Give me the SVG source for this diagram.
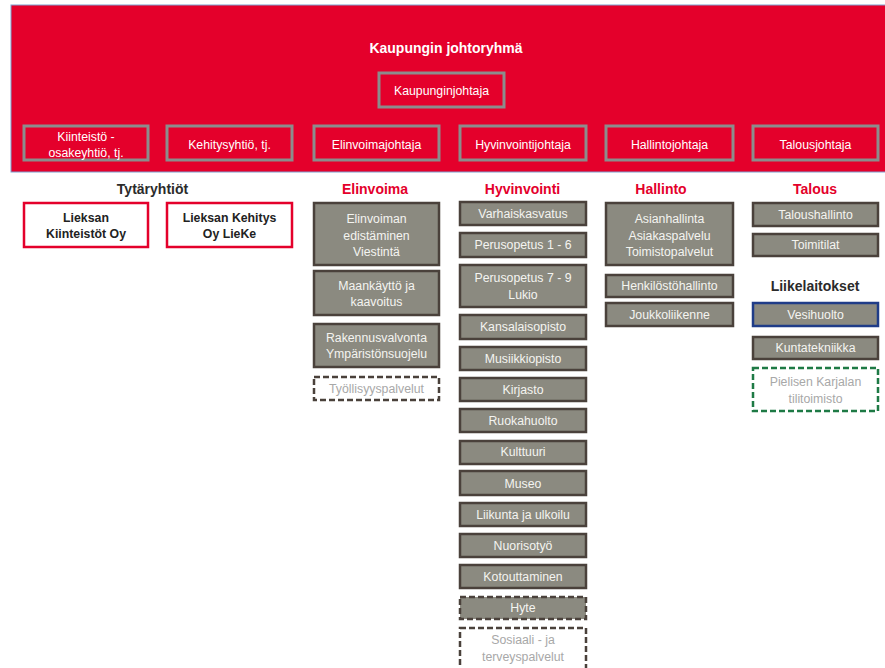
<svg xmlns="http://www.w3.org/2000/svg" width="885" height="668" viewBox="0 0 885 668">
<style>
text{font-family:"Liberation Sans",Arial,sans-serif;text-anchor:middle}
.top{fill:none;stroke:#8c8c8c;stroke-width:3}
.tw{fill:#ffffff;font-size:12.3px}
.hd{font-size:14px;font-weight:bold;fill:#e4002b}
.hk{font-size:14px;font-weight:bold;fill:#2b2b2b}
.sub{fill:#ffffff;stroke:#e4002b;stroke-width:2.5}
.sb{font-size:12.3px;font-weight:bold;fill:#222222}
.g{fill:#8b8a80;stroke:#4a413b;stroke-width:2.5}
.gt{font-size:12.3px;fill:#f4f4f0}
.dash{fill:#ffffff;stroke:#4a413b;stroke-width:2.5;stroke-dasharray:6 3}
.dt{font-size:12.3px;fill:#a8a8a8}
</style>
<g id="banner">
<rect x="11" y="5" width="880" height="167" fill="#e4002b" stroke="#7f9fcf" stroke-width="1"/>
<text x="446" y="53" style="font-size:14px;font-weight:bold;fill:#ffffff">Kaupungin johtoryhmä</text>
</g>
<g id="kaupunginjohtaja"><rect class="top" x="379" y="73" width="125" height="34"/><text class="tw" x="441.5" y="95">Kaupunginjohtaja</text></g>
<g id="kiinteistojohtaja"><rect class="top" x="24" y="126" width="124" height="34"/><text class="tw" x="86" y="141">Kiinteistö -</text><text class="tw" x="86" y="157">osakeyhtiö, tj.</text></g>
<g id="kehitysyhtio"><rect class="top" x="167" y="126" width="125" height="34"/><text class="tw" x="229.5" y="149">Kehitysyhtiö, tj.</text></g>
<g id="elinvoimajohtaja"><rect class="top" x="314" y="126" width="125" height="34"/><text class="tw" x="376.5" y="149">Elinvoimajohtaja</text></g>
<g id="hyvinvointijohtaja"><rect class="top" x="460" y="126" width="126" height="34"/><text class="tw" x="523" y="149">Hyvinvointijohtaja</text></g>
<g id="hallintojohtaja"><rect class="top" x="606" y="126" width="127" height="34"/><text class="tw" x="669.5" y="149">Hallintojohtaja</text></g>
<g id="talousjohtaja"><rect class="top" x="753" y="126" width="125" height="34"/><text class="tw" x="815.5" y="149">Talousjohtaja</text></g>

<g id="headers">
<text class="hk" x="152.5" y="194">Tytäryhtiöt</text>
<text class="hd" x="375" y="194">Elinvoima</text>
<text class="hd" x="522.5" y="194">Hyvinvointi</text>
<text class="hd" x="661" y="194">Hallinto</text>
<text class="hd" x="815" y="194">Talous</text>
<text class="hk" x="815" y="291">Liikelaitokset</text>
</g>

<g id="lieksan-kiinteistot"><rect class="sub" x="24" y="203" width="124" height="44"/><text class="sb" x="86" y="222">Lieksan</text><text class="sb" x="86" y="238">Kiinteistöt Oy</text></g>
<g id="lieksan-kehitys"><rect class="sub" x="167" y="203" width="125" height="44"/><text class="sb" x="229.5" y="222">Lieksan Kehitys</text><text class="sb" x="229.5" y="238">Oy LieKe</text></g>

<g id="elinvoiman-edistaminen"><rect class="g" x="314" y="203" width="125" height="62"/><text class="gt" x="376.5" y="223">Elinvoiman</text><text class="gt" x="376.5" y="240">edistäminen</text><text class="gt" x="376.5" y="256">Viestintä</text></g>
<g id="maankaytto"><rect class="g" x="314" y="271" width="125" height="44"/><text class="gt" x="376.5" y="290">Maankäyttö ja</text><text class="gt" x="376.5" y="306">kaavoitus</text></g>
<g id="rakennusvalvonta"><rect class="g" x="314" y="324" width="125" height="43"/><text class="gt" x="376.5" y="342">Rakennusvalvonta</text><text class="gt" x="376.5" y="358">Ympäristönsuojelu</text></g>
<g id="tyollisyyspalvelut"><rect class="dash" x="314" y="377" width="125" height="23"/><text class="dt" x="376.5" y="393">Työllisyyspalvelut</text></g>

<g id="varhaiskasvatus"><rect class="g" x="460" y="202" width="126" height="23"/><text class="gt" x="523" y="218">Varhaiskasvatus</text></g>
<g id="perusopetus16"><rect class="g" x="460" y="233" width="126" height="24"/><text class="gt" x="523" y="249">Perusopetus 1  - 6</text></g>
<g id="perusopetus79"><rect class="g" x="460" y="265" width="126" height="42"/><text class="gt" x="523" y="282">Perusopetus 7  - 9</text><text class="gt" x="523" y="299">Lukio</text></g>
<g id="kansalaisopisto"><rect class="g" x="460" y="315" width="126" height="24"/><text class="gt" x="523" y="331">Kansalaisopisto</text></g>
<g id="musiikkiopisto"><rect class="g" x="460" y="347" width="126" height="23"/><text class="gt" x="523" y="363">Musiikkiopisto</text></g>
<g id="kirjasto"><rect class="g" x="460" y="378" width="126" height="23"/><text class="gt" x="523" y="394">Kirjasto</text></g>
<g id="ruokahuolto"><rect class="g" x="460" y="409" width="126" height="23"/><text class="gt" x="523" y="425">Ruokahuolto</text></g>
<g id="kulttuuri"><rect class="g" x="460" y="441" width="126" height="23"/><text class="gt" x="523" y="456">Kulttuuri</text></g>
<g id="museo"><rect class="g" x="460" y="471" width="126" height="24"/><text class="gt" x="523" y="488">Museo</text></g>
<g id="liikunta"><rect class="g" x="460" y="503" width="126" height="23"/><text class="gt" x="523" y="519">Liikunta ja ulkoilu</text></g>
<g id="nuorisotyo"><rect class="g" x="460" y="534" width="126" height="23"/><text class="gt" x="523" y="550">Nuorisotyö</text></g>
<g id="kotouttaminen"><rect class="g" x="460" y="565" width="126" height="23"/><text class="gt" x="523" y="581">Kotouttaminen</text></g>
<g id="hyte"><rect class="g" x="460" y="597" width="126" height="22" style="stroke-dasharray:6 3"/><text class="gt" x="523" y="612">Hyte</text></g>
<g id="sosiaali"><rect class="dash" x="460" y="628" width="126" height="50"/><text class="dt" x="523" y="644">Sosiaali - ja</text><text class="dt" x="523" y="661">terveyspalvelut</text></g>

<g id="asianhallinta"><rect class="g" x="606" y="203" width="127" height="62"/><text class="gt" x="669.5" y="223">Asianhallinta</text><text class="gt" x="669.5" y="240">Asiakaspalvelu</text><text class="gt" x="669.5" y="256">Toimistopalvelut</text></g>
<g id="henkilostohallinto"><rect class="g" x="606" y="275" width="127" height="22"/><text class="gt" x="669.5" y="290">Henkilöstöhallinto</text></g>
<g id="joukkoliikenne"><rect class="g" x="606" y="303" width="127" height="23"/><text class="gt" x="669.5" y="319">Joukkoliikenne</text></g>

<g id="taloushallinto"><rect class="g" x="753" y="203" width="125" height="23"/><text class="gt" x="815.5" y="219">Taloushallinto</text></g>
<g id="toimitilat"><rect class="g" x="753" y="234" width="125" height="22"/><text class="gt" x="815.5" y="249">Toimitilat</text></g>
<g id="vesihuolto"><rect class="g" x="753" y="303" width="125" height="23" style="stroke:#1f3c88"/><text class="gt" x="815.5" y="319">Vesihuolto</text></g>
<g id="kuntatekniikka"><rect class="g" x="753" y="337" width="125" height="22"/><text class="gt" x="815.5" y="352">Kuntatekniikka</text></g>
<g id="pielisen"><rect class="dash" x="753" y="368" width="125" height="43" style="stroke:#1e7a45"/><text class="dt" x="815.5" y="386">Pielisen Karjalan</text><text class="dt" x="815.5" y="403">tilitoimisto</text></g>

<g id="connectors"></g>
</svg>
